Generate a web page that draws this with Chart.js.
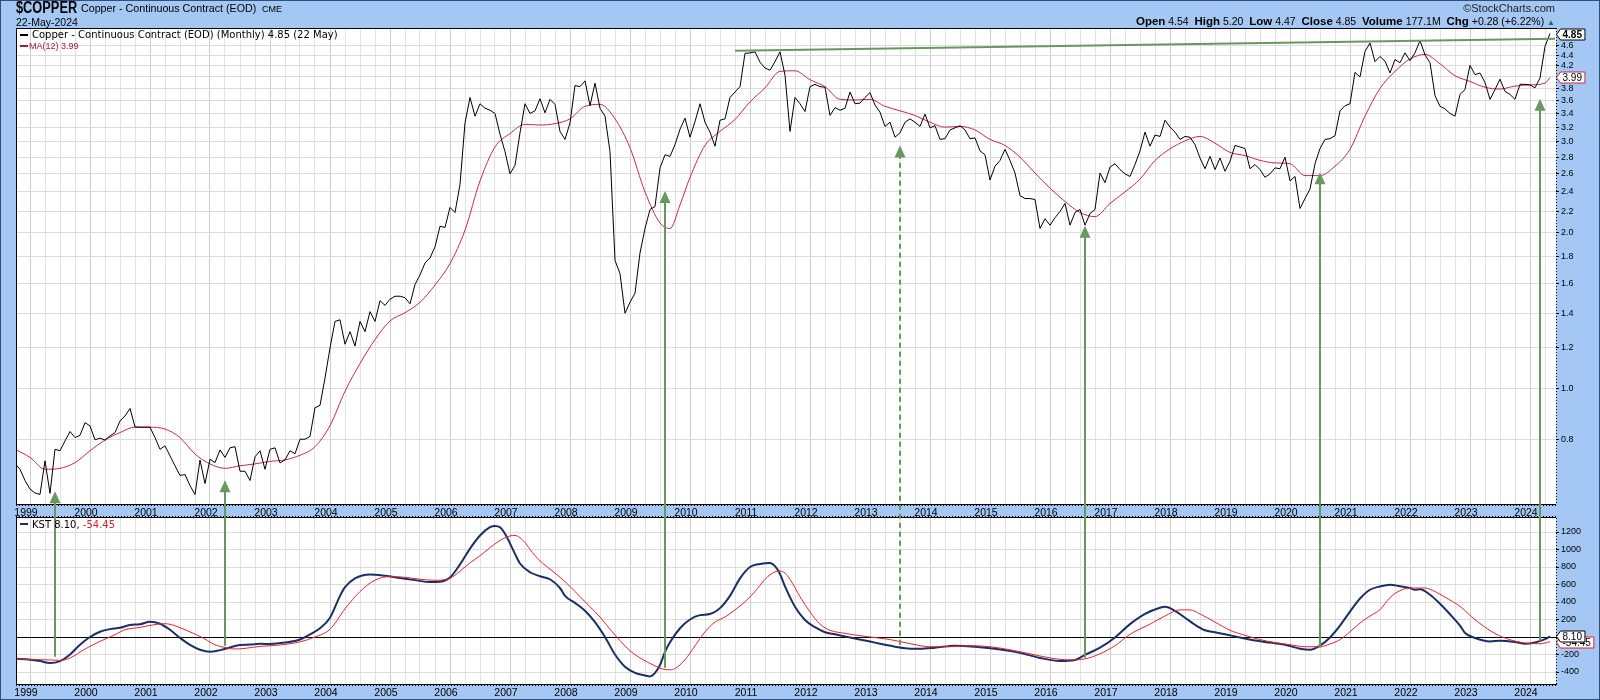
<!DOCTYPE html>
<html lang="en">
<head>
<meta charset="UTF-8">
<title>$COPPER - Copper Continuous Contract (Monthly) with KST</title>
<script src="https://cdn.jsdelivr.net/npm/chart.js"></script>
<style>
  body { margin: 0; background: #a4c7f3; }
  .page { position: relative; width: 1600px; height: 700px; overflow: hidden; font-family: "Liberation Sans", Arial, sans-serif; color: #000; }
  #chart { position: absolute; left: 0; top: 0; }
  .t { position: absolute; white-space: nowrap; line-height: 1; }
  .sym { left: 16px; top: 0px; font-size: 16px; font-weight: bold; transform: scaleX(0.8); transform-origin: 0 0; }
  .name { left: 81px; top: 3px; font-size: 10.7px; }
  .exch { left: 262px; top: 5px; font-size: 9px; }
  .date { left: 16px; top: 17px; font-size: 10.5px; }
  .copy { right: 45px; top: 3px; font-size: 11px; color: #222; }
  .ohlc { right: 45px; top: 16px; font-size: 10.5px; }
  .ohlc b { font-size: 11.5px; }
  .ohlc .up { font-size: 8px; color: #1f6b4f; }
  .leg { font-family: "DejaVu Sans", Verdana, sans-serif; font-size: 10px; }
  .leg1 { left: 32px; top: 30px; }
  .leg2 { left: 29px; top: 41.5px; font-size: 9px; color: #a8163c; }
  .legk { left: 32px; top: 519.5px; }
  .legk .neg { color: #e0202a; }
  .dash { position: absolute; width: 8px; height: 2px; }
</style>
</head>
<body>
<div class="page">
  <canvas id="chart" width="1600" height="700"></canvas>

  <div class="t sym">$COPPER</div>
  <div class="t name">Copper - Continuous Contract (EOD)</div>
  <div class="t exch">CME</div>
  <div class="t date">22-May-2024</div>
  <div class="t copy">&copy;StockCharts.com</div>
  <div class="t ohlc"><b>Open</b> 4.54 &nbsp;<b>High</b> 5.20 &nbsp;<b>Low</b> 4.47 &nbsp;<b>Close</b> 4.85 &nbsp;<b>Volume</b> 177.1M &nbsp;<b>Chg</b> +0.28 (+6.22%) <span class="up">&#9650;</span></div>

  <div class="dash" style="left:20px; top:34px; background:#000;"></div>
  <div class="t leg leg1">Copper - Continuous Contract (EOD) (Monthly) 4.85 (22 May)</div>
  <div class="dash" style="left:20px; top:45px; background:#a8163c;"></div>
  <div class="t leg2">MA(12) 3.99</div>
  <div class="dash" style="left:20px; top:523px; background:#1b2f66;"></div>
  <div class="t leg legk">KST 8.10, <span class="neg">-54.45</span></div>
</div>

<script>
// monthly closes, Oct 1998 .. May 2024
const priceStart = '1998-10';
const price = [
  0.718, 0.700, 0.666,
  0.641, 0.630, 0.626, 0.727, 0.629, 0.765, 0.760, 0.794, 0.828, 0.806, 0.814, 0.861,
  0.849, 0.798, 0.804, 0.797, 0.812, 0.824, 0.868, 0.887, 0.917, 0.845, 0.844, 0.844,
  0.844, 0.806, 0.765, 0.777, 0.743, 0.711, 0.681, 0.684, 0.651, 0.626, 0.729, 0.657,
  0.732, 0.721, 0.763, 0.738, 0.770, 0.774, 0.694, 0.694, 0.666, 0.740, 0.760, 0.700,
  0.765, 0.770, 0.720, 0.730, 0.760, 0.750, 0.800, 0.800, 0.810, 0.920, 0.930, 1.050,
  1.20, 1.35, 1.36, 1.22, 1.29, 1.21, 1.35, 1.29, 1.41, 1.35, 1.48, 1.45,
  1.49, 1.51, 1.51, 1.50, 1.46, 1.59, 1.66, 1.75, 1.79, 1.88, 2.06, 2.05,
  2.24, 2.19, 2.48, 3.26, 3.65, 3.36, 3.55, 3.48, 3.45, 3.40, 3.10, 2.87,
  2.60, 2.70, 3.12, 3.55, 3.40, 3.44, 3.63, 3.41, 3.62, 3.54, 3.14, 3.03,
  3.26, 3.85, 3.83, 3.93, 3.52, 3.89, 3.48, 3.36, 2.87, 1.77, 1.67, 1.40,
  1.47, 1.53, 1.83, 2.04, 2.22, 2.25, 2.67, 2.83, 2.81, 2.96, 3.17, 3.33,
  3.06, 3.28, 3.55, 3.27, 3.13, 2.94, 3.30, 3.32, 3.65, 3.74, 3.83, 4.44,
  4.45, 4.47, 4.27, 4.16, 4.12, 4.28, 4.47, 4.03, 3.14, 3.65, 3.55, 3.43,
  3.83, 3.87, 3.83, 3.82, 3.37, 3.49, 3.45, 3.48, 3.74, 3.55, 3.56, 3.65,
  3.73, 3.53, 3.42, 3.21, 3.27, 3.06, 3.12, 3.27, 3.32, 3.27, 3.21, 3.39,
  3.19, 3.22, 3.03, 3.04, 3.16, 3.19, 3.22, 3.16, 3.04, 3.05, 2.88, 2.83,
  2.53, 2.69, 2.76, 2.90, 2.76, 2.61, 2.36, 2.33, 2.33, 2.32, 2.04, 2.13,
  2.07, 2.14, 2.20, 2.28, 2.07, 2.19, 2.22, 2.07, 2.18, 2.22, 2.61, 2.50,
  2.68, 2.72, 2.65, 2.60, 2.57, 2.71, 2.88, 3.13, 2.94, 3.09, 3.07, 3.30,
  3.20, 3.13, 3.03, 3.07, 3.06, 2.96, 2.79, 2.66, 2.81, 2.65, 2.79, 2.63,
  2.75, 2.95, 2.93, 2.91, 2.66, 2.71, 2.65, 2.56, 2.60, 2.67, 2.66, 2.80,
  2.52, 2.57, 2.23, 2.33, 2.43, 2.72, 2.91, 3.03, 3.04, 3.08, 3.44, 3.52,
  3.55, 4.08, 4.00, 4.48, 4.65, 4.28, 4.38, 4.29, 4.07, 4.32, 4.26, 4.45,
  4.30, 4.45, 4.70, 4.41, 4.26, 3.68, 3.51, 3.47, 3.40, 3.36, 3.70, 3.78,
  4.21, 4.04, 4.07, 3.90, 3.62, 3.78, 3.96, 3.75, 3.70, 3.62, 3.87, 3.87,
  3.86, 3.81, 3.98, 4.58, 4.85
];

// MA(12) of the close
const maDates = [
  '1998-10',
  '1999-01', '1999-04', '1999-07', '1999-10',
  '2000-01', '2000-04', '2000-07', '2000-10',
  '2001-01', '2001-04', '2001-07', '2001-10',
  '2002-01', '2002-04', '2002-07', '2002-10',
  '2003-01', '2003-04', '2003-07', '2003-10',
  '2004-01', '2004-04', '2004-07', '2004-10',
  '2005-01', '2005-04', '2005-07', '2005-10',
  '2006-01', '2006-04', '2006-07', '2006-10',
  '2007-01', '2007-04', '2007-07', '2007-10',
  '2008-01', '2008-04', '2008-07', '2008-10',
  '2009-01', '2009-04', '2009-07', '2009-09', '2009-11',
  '2010-01', '2010-04', '2010-07', '2010-10',
  '2011-01', '2011-04', '2011-07', '2011-10',
  '2012-01', '2012-04', '2012-07', '2012-10',
  '2013-01', '2013-04', '2013-07', '2013-10',
  '2014-01', '2014-04', '2014-07', '2014-10',
  '2015-01', '2015-04', '2015-07', '2015-10',
  '2016-01', '2016-04', '2016-07', '2016-10',
  '2017-01', '2017-04', '2017-07', '2017-10',
  '2018-01', '2018-04', '2018-07', '2018-10',
  '2019-01', '2019-04', '2019-07', '2019-10',
  '2020-01', '2020-04', '2020-07', '2020-10',
  '2021-01', '2021-04', '2021-07', '2021-10',
  '2022-01', '2022-04', '2022-07', '2022-10',
  '2023-01', '2023-04', '2023-07', '2023-10',
  '2024-01', '2024-04', '2024-05'
];
const maValues = [
  0.765,
  0.738, 0.700, 0.703, 0.721,
  0.760, 0.797, 0.824, 0.844,
  0.844, 0.837, 0.806, 0.749,
  0.717, 0.703, 0.711, 0.717,
  0.725, 0.730, 0.745, 0.774,
  0.850, 0.990, 1.120, 1.245,
  1.353, 1.403, 1.470, 1.587,
  1.746, 2.025, 2.520, 2.930,
  3.110, 3.240, 3.230, 3.250,
  3.320, 3.510, 3.540, 3.320,
  2.920, 2.400, 2.090, 2.040, 2.265,
  2.560, 2.950, 3.140, 3.310,
  3.580, 3.810, 4.100, 4.110,
  3.950, 3.830, 3.620, 3.610,
  3.620, 3.510, 3.440, 3.370,
  3.270, 3.200, 3.210, 3.160,
  3.030, 2.950, 2.800, 2.610,
  2.440, 2.300, 2.190, 2.150,
  2.280, 2.400, 2.540, 2.760,
  2.905, 3.010, 3.070, 2.980,
  2.860, 2.820, 2.760, 2.730,
  2.720, 2.580, 2.580, 2.690,
  2.900, 3.360, 3.800, 4.100,
  4.330, 4.420, 4.240, 4.020,
  3.920, 3.820, 3.790, 3.840,
  3.860, 3.890, 3.990
];

// KST line
const kstDates = [
  '1998-10',
  '1999-01', '1999-03', '1999-05', '1999-07', '1999-09', '1999-11',
  '2000-01', '2000-03', '2000-05', '2000-07', '2000-09', '2000-11',
  '2001-01', '2001-03', '2001-05', '2001-07', '2001-09', '2001-11',
  '2002-01', '2002-03', '2002-05', '2002-07', '2002-09', '2002-11',
  '2003-01', '2003-04', '2003-07', '2003-09', '2003-11',
  '2004-01', '2004-03', '2004-04', '2004-06', '2004-09', '2004-12',
  '2005-03', '2005-06', '2005-09', '2005-11',
  '2006-01', '2006-03', '2006-05', '2006-07', '2006-09', '2006-10', '2006-11', '2006-12',
  '2007-02', '2007-03', '2007-05', '2007-07', '2007-09', '2007-11', '2007-12',
  '2008-02', '2008-04', '2008-06', '2008-08', '2008-10', '2008-12',
  '2009-02', '2009-04', '2009-05', '2009-06', '2009-07', '2009-08', '2009-09', '2009-11',
  '2010-01', '2010-03', '2010-05', '2010-07', '2010-09', '2010-11',
  '2011-01', '2011-03', '2011-05', '2011-06', '2011-07', '2011-08', '2011-10', '2011-12',
  '2012-02', '2012-04', '2012-06', '2012-08', '2012-10', '2012-12',
  '2013-02', '2013-04', '2013-06', '2013-09', '2013-11',
  '2014-02', '2014-06', '2014-10',
  '2015-02', '2015-06', '2015-09', '2015-11',
  '2016-03', '2016-06', '2016-08', '2016-11',
  '2017-02', '2017-05', '2017-08', '2017-11', '2017-12',
  '2018-02', '2018-04', '2018-06', '2018-08', '2018-10', '2018-12',
  '2019-03', '2019-06', '2019-09', '2019-12',
  '2020-03', '2020-05', '2020-07', '2020-09', '2020-11',
  '2021-01', '2021-03', '2021-05', '2021-07', '2021-09', '2021-11',
  '2022-01', '2022-02', '2022-03', '2022-05', '2022-07', '2022-09', '2022-11', '2022-12',
  '2023-02', '2023-05', '2023-07', '2023-10', '2023-12',
  '2024-02', '2024-04', '2024-05'
];
const kstValues = [
  -248,
  -259, -275, -297, -275, -200, -88,
  0, 60, 90, 105, 138, 145,
  175, 152, 83, -10, -90, -145,
  -168, -150, -120, -91, -87, -77,
  -80, -64, -29, 30, 100,
  220, 470, 570, 670, 715, 700,
  675, 650, 628, 632,
  680, 830, 1010, 1160, 1255, 1270, 1255, 1180,
  950, 840, 740, 695, 660, 560, 470,
  390, 300, 170, 0, -200, -340,
  -410, -440, -450, -410, -320, -170, -60, 100,
  200, 250, 262, 330, 470, 670,
  800, 835, 847, 810, 720, 578, 345, 194,
  112, 54, 31, 7, -17, -41,
  -64, -88, -111, -134, -134,
  -122, -99, -111,
  -134, -170, -210, -239,
  -274, -262, -204, -122,
  -5, 147, 264, 335, 345,
  300, 220, 140, 77, 54, 31,
  -5, -41, -64, -88,
  -134, -146, -99, -5, 130,
  290, 440, 540, 578, 598, 580,
  560, 540, 545, 483, 380, 260, 130, 46,
  -11, -50, -42, -57, -77,
  -62, -25, 8.10
];

// KST signal line
const sigDates = [
  '1998-10',
  '1999-01', '1999-03', '1999-05', '1999-07', '1999-09', '1999-12',
  '2000-03', '2000-06', '2000-08', '2000-11',
  '2001-01', '2001-04', '2001-06', '2001-08', '2001-11',
  '2002-02', '2002-03', '2002-06', '2002-08', '2002-11',
  '2003-01', '2003-04', '2003-07', '2003-10',
  '2004-01', '2004-04', '2004-07', '2004-10',
  '2005-01', '2005-04', '2005-07', '2005-10',
  '2006-01', '2006-03', '2006-05', '2006-07', '2006-09', '2006-11',
  '2007-01', '2007-02', '2007-04', '2007-05', '2007-07', '2007-09', '2007-11',
  '2008-01', '2008-03', '2008-05', '2008-07', '2008-09', '2008-11',
  '2009-01', '2009-03', '2009-06', '2009-08', '2009-09', '2009-10', '2009-12',
  '2010-02', '2010-04', '2010-06', '2010-08', '2010-10', '2010-12',
  '2011-02', '2011-04', '2011-06', '2011-07', '2011-08', '2011-09', '2011-11',
  '2012-01', '2012-03', '2012-05', '2012-08', '2012-12',
  '2013-05', '2013-09',
  '2014-01', '2014-05', '2014-09',
  '2015-01', '2015-05', '2015-09',
  '2016-01', '2016-05', '2016-08', '2016-11',
  '2017-02', '2017-05', '2017-09', '2017-12',
  '2018-03', '2018-05', '2018-07', '2018-10',
  '2019-01', '2019-04', '2019-07', '2019-10',
  '2020-01', '2020-04', '2020-07', '2020-09', '2020-11',
  '2021-01', '2021-03', '2021-05', '2021-07', '2021-09', '2021-11',
  '2022-01', '2022-04', '2022-06', '2022-08', '2022-11',
  '2023-02', '2023-06', '2023-09', '2023-12',
  '2024-03', '2024-05'
];
const sigValues = [
  -248,
  -255, -259, -262, -267, -240, -137,
  -50, 26, 83, 110,
  133, 152, 129, 83, 7,
  -88, -107, -137, -130, -107,
  -100, -85, -55, 0,
  89, 322, 520, 650,
  690, 683, 660, 648,
  671, 753, 847, 928, 1021, 1103,
  1155, 1160, 1080, 1000, 870, 776, 683,
  578, 461, 345, 229, 89, -41,
  -157, -239, -330, -372, -375, -360, -260,
  -100, 60, 170, 229, 310, 403,
  520, 660, 745, 755, 730, 660, 461,
  287, 147, 77, 42, 7,
  -29, -76,
  -111, -111, -99,
  -111, -146, -192,
  -239, -262, -250, -192,
  -99, 31, 147, 240,
  310, 310, 264, 170,
  77, 19, -29, -64,
  -88, -111, -111, -80, -30,
  60, 160, 240, 312, 450, 530,
  560, 560, 520, 455, 350,
  198, 40, -31, -69,
  -77, -54.45
];

// tick labels on the right axes
const priceTicks = [0.8, 1.0, 1.2, 1.4, 1.6, 1.8, 2.0, 2.2, 2.4, 2.6, 2.8, 3.0, 3.2, 3.4, 3.6, 3.8, 4.0, 4.2, 4.4, 4.6];
const kstTicks = [-400, -200, 0, 200, 400, 600, 800, 1000, 1200];
const firstYear = 1999, lastYear = 2024;

// annotations: up arrows (tip on the price pane, tail on the KST pane) and the resistance line
const arrowDates = ['1999-06', '2002-04', '2009-08', '2013-07', '2016-08', '2020-07', '2024-03'];
const arrowTips = [0.635, 0.667, 2.41, 2.95, 2.065, 2.62, 3.63];
const arrowTails = [-225, -99, -351, -88, -237, -122, -42];
const arrowDashed = [false, false, false, true, false, false, false];
const trendDates = ['2010-10', '2024-06'];
const trendValues = [4.49, 4.74];

const BLUE = '#a4c7f3';
const GREEN = '#68985f';
const NARROW = '"Liberation Sans Narrow", "Liberation Sans", Arial, sans-serif';
const SANS = '"Liberation Sans", Arial, sans-serif';

function monthIndex(d) {
  const [y, m] = d.split('-').map(Number);
  return (y - firstYear) * 12 + (m - 1);
}

const pricePts = price.map((v, i) => ({ x: monthIndex(priceStart) + i, y: v }));
const maPts = maDates.map((d, i) => ({ x: monthIndex(d), y: maValues[i] }));
const kstPts = kstDates.map((d, i) => ({ x: monthIndex(d), y: kstValues[i] }));
const sigPts = sigDates.map((d, i) => ({ x: monthIndex(d), y: sigValues[i] }));

const gridMonths = [];
for (let m = 0; m <= (lastYear - firstYear) * 12 + 3; m += 3) gridMonths.push(m);

function tagBox(ctx, x, y, text, border, bold) {
  ctx.font = (bold ? 'bold ' : '') + '10px ' + SANS;
  const w = ctx.measureText(text).width + 5;
  const h = 11;
  const yc = Math.round(y) + 0.5;
  ctx.beginPath();
  ctx.moveTo(x + 0.5, yc);
  ctx.lineTo(x + 4.5, yc - h / 2);
  ctx.lineTo(x + 4.5 + w, yc - h / 2);
  ctx.lineTo(x + 4.5 + w, yc + h / 2);
  ctx.lineTo(x + 4.5, yc + h / 2);
  ctx.closePath();
  ctx.fillStyle = '#fff';
  ctx.fill();
  ctx.strokeStyle = border;
  ctx.lineWidth = 1;
  ctx.stroke();
  ctx.fillStyle = '#000';
  ctx.textAlign = 'left';
  ctx.textBaseline = 'middle';
  ctx.fillText(text, x + 6.5, yc + 0.5);
}

function drawArrow(ctx, x, yTip, yTail, dashed) {
  ctx.strokeStyle = GREEN;
  ctx.fillStyle = GREEN;
  ctx.lineWidth = 2;
  ctx.setLineDash(dashed ? [5, 4] : []);
  ctx.beginPath();
  ctx.moveTo(x, yTail);
  ctx.lineTo(x, yTip + 10);
  ctx.stroke();
  ctx.setLineDash([]);
  ctx.beginPath();
  ctx.moveTo(x, yTip);
  ctx.lineTo(x - 5.5, yTip + 12);
  ctx.lineTo(x + 5.5, yTip + 12);
  ctx.closePath();
  ctx.fill();
}

function dotted(ctx, x0, y0, x1, y1) {
  ctx.save();
  ctx.strokeStyle = '#000';
  ctx.lineWidth = 1;
  ctx.setLineDash([1, 2]);
  ctx.beginPath();
  ctx.moveTo(x0, y0);
  ctx.lineTo(x1, y1);
  ctx.stroke();
  ctx.restore();
}

const panes = {
  id: 'panes',
  beforeDraw(chart) {
    const { ctx, chartArea: a, scales: { yP, yK } } = chart;
    ctx.save();
    ctx.fillStyle = BLUE;
    ctx.fillRect(0, 0, chart.width, chart.height);
    ctx.fillStyle = '#fff';
    ctx.fillRect(a.left, yP.top, a.right - a.left, yP.bottom - yP.top);
    ctx.fillRect(a.left, yK.top, a.right - a.left, yK.bottom - yK.top);
    ctx.restore();
  },
  beforeDatasetsDraw(chart) {
    const { ctx, chartArea: a, scales: { x, yP, yK } } = chart;
    const top = yP.bottom, bot = yK.top;
    ctx.save();
    ctx.fillStyle = BLUE;
    ctx.fillRect(a.left, top, a.right - a.left, bot - top);
    ctx.fillStyle = '#000';
    ctx.font = '10.5px ' + NARROW;
    ctx.textAlign = 'center';
    ctx.textBaseline = 'alphabetic';
    for (let yr = firstYear; yr <= lastYear; yr++) {
      ctx.fillText(String(yr), x.getPixelForValue((yr - firstYear) * 12) - 4, bot - 2);
    }
    ctx.restore();
  },
  afterDatasetsDraw(chart) {
    const { ctx, chartArea: a, scales: { x, yP, yK } } = chart;
    ctx.save();
    // pane frames
    ctx.strokeStyle = '#000';
    ctx.lineWidth = 1;
    ctx.beginPath();
    ctx.moveTo(a.left, yP.top + 0.5); ctx.lineTo(a.right, yP.top + 0.5);
    ctx.moveTo(a.left + 0.5, yP.top); ctx.lineTo(a.left + 0.5, yP.bottom);
    ctx.moveTo(a.left + 0.5, yK.top); ctx.lineTo(a.left + 0.5, yK.bottom);
    ctx.moveTo(a.left, yP.bottom + 0.5); ctx.lineTo(a.right, yP.bottom + 0.5);
    ctx.moveTo(a.left, yK.top - 0.5); ctx.lineTo(a.right, yK.top - 0.5);
    ctx.stroke();
    dotted(ctx, a.left, yP.bottom + 1.5, a.right, yP.bottom + 1.5);
    dotted(ctx, a.left, yK.top - 1.5, a.right, yK.top - 1.5);
    dotted(ctx, a.left, yK.bottom + 1.5, a.right, yK.bottom + 1.5);
    // dotted right axis lines
    dotted(ctx, a.right + 0.5, yP.top, a.right + 0.5, yP.bottom);
    dotted(ctx, a.right + 0.5, yK.top, a.right + 0.5, yK.bottom);

    // resistance line
    ctx.strokeStyle = GREEN;
    ctx.lineWidth = 2;
    ctx.beginPath();
    ctx.moveTo(x.getPixelForValue(monthIndex(trendDates[0])), yP.getPixelForValue(trendValues[0]));
    ctx.lineTo(x.getPixelForValue(monthIndex(trendDates[1])), yP.getPixelForValue(trendValues[1]));
    ctx.stroke();

    // arrows
    arrowDates.forEach((d, i) => {
      drawArrow(ctx, x.getPixelForValue(monthIndex(d)), yP.getPixelForValue(arrowTips[i]),
        yK.getPixelForValue(arrowTails[i]), arrowDashed[i]);
    });

    // last-value tags on the right axes
    tagBox(ctx, a.right, yP.getPixelForValue(maValues[maValues.length - 1]), maValues[maValues.length - 1].toFixed(2), '#c8284a', false);
    tagBox(ctx, a.right, yP.getPixelForValue(price[price.length - 1]), price[price.length - 1].toFixed(2), '#000', true);
    tagBox(ctx, a.right, yK.getPixelForValue(sigValues[sigValues.length - 1]), sigValues[sigValues.length - 1].toFixed(2), '#e0202a', false);
    tagBox(ctx, a.right, yK.getPixelForValue(kstValues[kstValues.length - 1]), kstValues[kstValues.length - 1].toFixed(2), '#000', false);

    // outer frame
    ctx.strokeStyle = '#2e4f80';
    ctx.strokeRect(0.5, 0.5, chart.width - 1, chart.height - 1);
    ctx.restore();
  }
};

const axisFont = { family: SANS, size: 9 };

new Chart(document.getElementById('chart'), {
  type: 'line',
  data: {
    datasets: [
      { label: 'Copper', data: pricePts, yAxisID: 'yP', borderColor: '#000', borderWidth: 1, pointRadius: 0, tension: 0 },
      { label: 'MA(12)', data: maPts, yAxisID: 'yP', borderColor: '#c8284a', borderWidth: 1, pointRadius: 0, cubicInterpolationMode: 'monotone' },
      { label: 'Signal', data: sigPts, yAxisID: 'yK', borderColor: '#e8242c', borderWidth: 1, pointRadius: 0, cubicInterpolationMode: 'monotone' },
      { label: 'KST', data: kstPts, yAxisID: 'yK', borderColor: '#1b2f66', borderWidth: 2, pointRadius: 0, cubicInterpolationMode: 'monotone' }
    ]
  },
  options: {
    responsive: false,
    animation: false,
    devicePixelRatio: 1,
    events: [],
    layout: { padding: { left: 16, top: 28, right: 0, bottom: 3 } },
    plugins: { legend: { display: false }, tooltip: { enabled: false } },
    scales: {
      x: {
        type: 'linear',
        min: -2.8,
        max: 305.2,
        afterBuildTicks: s => { s.ticks = gridMonths.map(v => ({ value: v })); },
        afterFit: s => { s.height = 13; },
        grid: {
          color: c => (c.tick && c.tick.value % 12 === 0) ? '#cdcdcd' : '#e2e2e2',
          drawTicks: false
        },
        border: { color: '#000' },
        ticks: {
          autoSkip: false, maxRotation: 0, padding: 3, labelOffset: -4, color: '#000',
          font: { family: NARROW, size: 10.5 },
          callback: v => v % 12 === 0 ? String(firstYear + v / 12) : ''
        }
      },
      yP: {
        type: 'logarithmic',
        position: 'right',
        stack: 'panes',
        stackWeight: 476,
        min: 0.608,
        max: 4.97,
        afterBuildTicks: s => { s.ticks = priceTicks.map(v => ({ value: v })); },
        afterFit: s => { s.width = 44; },
        grid: { color: '#dcdcdc', tickLength: 3, tickColor: '#000' },
        border: { display: false },
        ticks: { autoSkip: false, padding: 2, color: '#000', font: axisFont, callback: v => Number(v).toFixed(1) }
      },
      yBand: {
        type: 'linear',
        position: 'right',
        stack: 'panes',
        stackWeight: 14,
        min: 0,
        max: 1,
        afterFit: s => { s.width = 44; },
        grid: { display: false },
        border: { display: false },
        ticks: { display: false }
      },
      yK: {
        type: 'linear',
        position: 'right',
        stack: 'panes',
        stackWeight: 166,
        min: -537,
        max: 1360,
        afterBuildTicks: s => { s.ticks = kstTicks.map(v => ({ value: v })); },
        afterFit: s => { s.width = 44; },
        grid: { color: c => (c.tick && c.tick.value === 0) ? '#000' : '#dcdcdc', tickLength: 3, tickColor: '#000' },
        border: { display: false },
        ticks: { autoSkip: false, padding: 2, color: '#000', font: axisFont, callback: v => String(v) }
      }
    }
  },
  plugins: [panes]
});
</script>
</body>
</html>
